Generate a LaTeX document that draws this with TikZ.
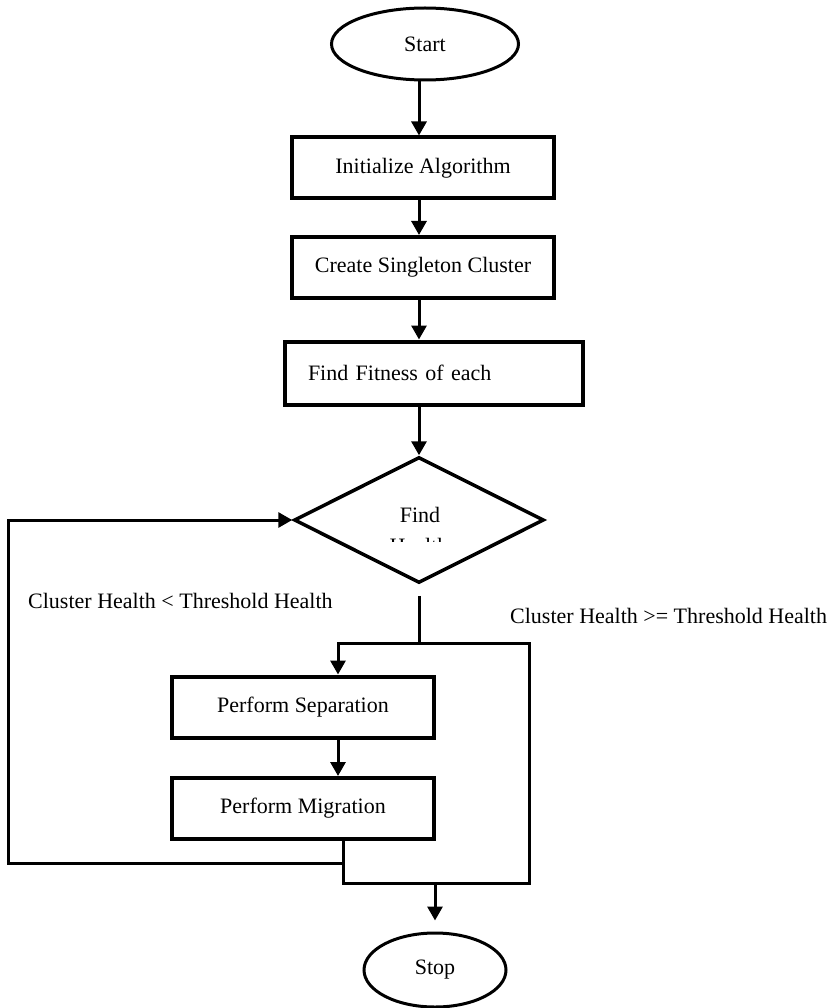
\documentclass[tikz,border=0pt]{standalone}
\usepackage{fontspec}
\setmainfont{Liberation Serif}
\usepackage{tikz}
\usetikzlibrary{arrows.meta, positioning, shapes.geometric}

\begin{document}
\begin{tikzpicture}[x=1pt, y=-1pt,
	font=\fontsize{22}{26}\selectfont,
	>={Triangle[length=14pt, width=15pt]},
	terminal/.style={draw, ellipse, line width=3pt, inner sep=0pt},
	process/.style={draw, rectangle, line width=4pt, minimum width=262pt, minimum height=61pt, inner sep=0pt},
	decision/.style={draw, diamond, line width=3.5pt, minimum width=250pt, minimum height=126pt, inner sep=0pt},
	flow/.style={line width=3pt},
	caption/.style={anchor=west, inner sep=0pt}]

\useasboundingbox (0,0) rectangle (832,1008);

\def \xmid{419}

\coordinate (spine) at (\xmid,0);
\coordinate (split) at (\xmid,643);
\coordinate (sepin) at (338,643);
\coordinate (right) at (529,643);
\coordinate (drop) at (343,883);
\coordinate (merge) at (529,883);
\coordinate (back) at (8,863);
\coordinate (exit) at (435,883);

\node[terminal, minimum width=187pt, minimum height=72pt] (start) at (425,44) {Start};
\node[process] (init) at (423,168) {Initialize Algorithm};
\node[process] (single) at (423,267.5) {Create Singleton Cluster};
\node[process, minimum width=298pt, minimum height=63pt, text width=252pt, align=left, inner xsep=23pt] (fitness) at (434,373) {Find Fitness of each};

\node[decision] (health) at (\xmid,520) {};
\node[anchor=base] (find) at (420,522) {Find};
\begin{scope}
	\clip (380,530) rectangle (460,541); % second line is cut off
	\node[anchor=base] (hidden) at (419,553) {Health};
\end{scope}

\node[process] (sep) at (303,707) {Perform Separation};
\node[process] (mig) at (303,808.5) {Perform Migration};
\node[terminal, minimum width=142pt, minimum height=74pt] (stop) at (435,970) {Stop};

\node[caption] (less) at (28,601) {Cluster Health < Threshold Health};
\node[caption] (more) at (510,616) {Cluster Health >= Threshold Health};

\draw[->, flow] (start.south -| spine) -- (init.north -| spine);
\draw[->, flow] (init.south -| spine) -- (single.north -| spine);
\draw[->, flow] (single.south -| spine) -- (fitness.north -| spine);
\draw[->, flow] (fitness.south -| spine) -- (health.north);

\draw[flow] ([yshift=-11pt]health.south) -- (split); % out of decision
\draw[flow, line cap=rect] (mig.south -| drop) -- (drop) -- (merge) -- (right) -- (sepin);
\draw[->, flow] (sepin) -- (sep.north -| sepin);
\draw[->, flow] (sep.south -| sepin) -- (mig.north -| sepin);
\draw[->, flow, line cap=rect] (drop |- back) -- (back) -- (back |- health.west) -- (health.west); % back loop
\draw[->, flow] (exit) -- ([yshift=11pt]stop.north);

\end{tikzpicture}
\end{document}
